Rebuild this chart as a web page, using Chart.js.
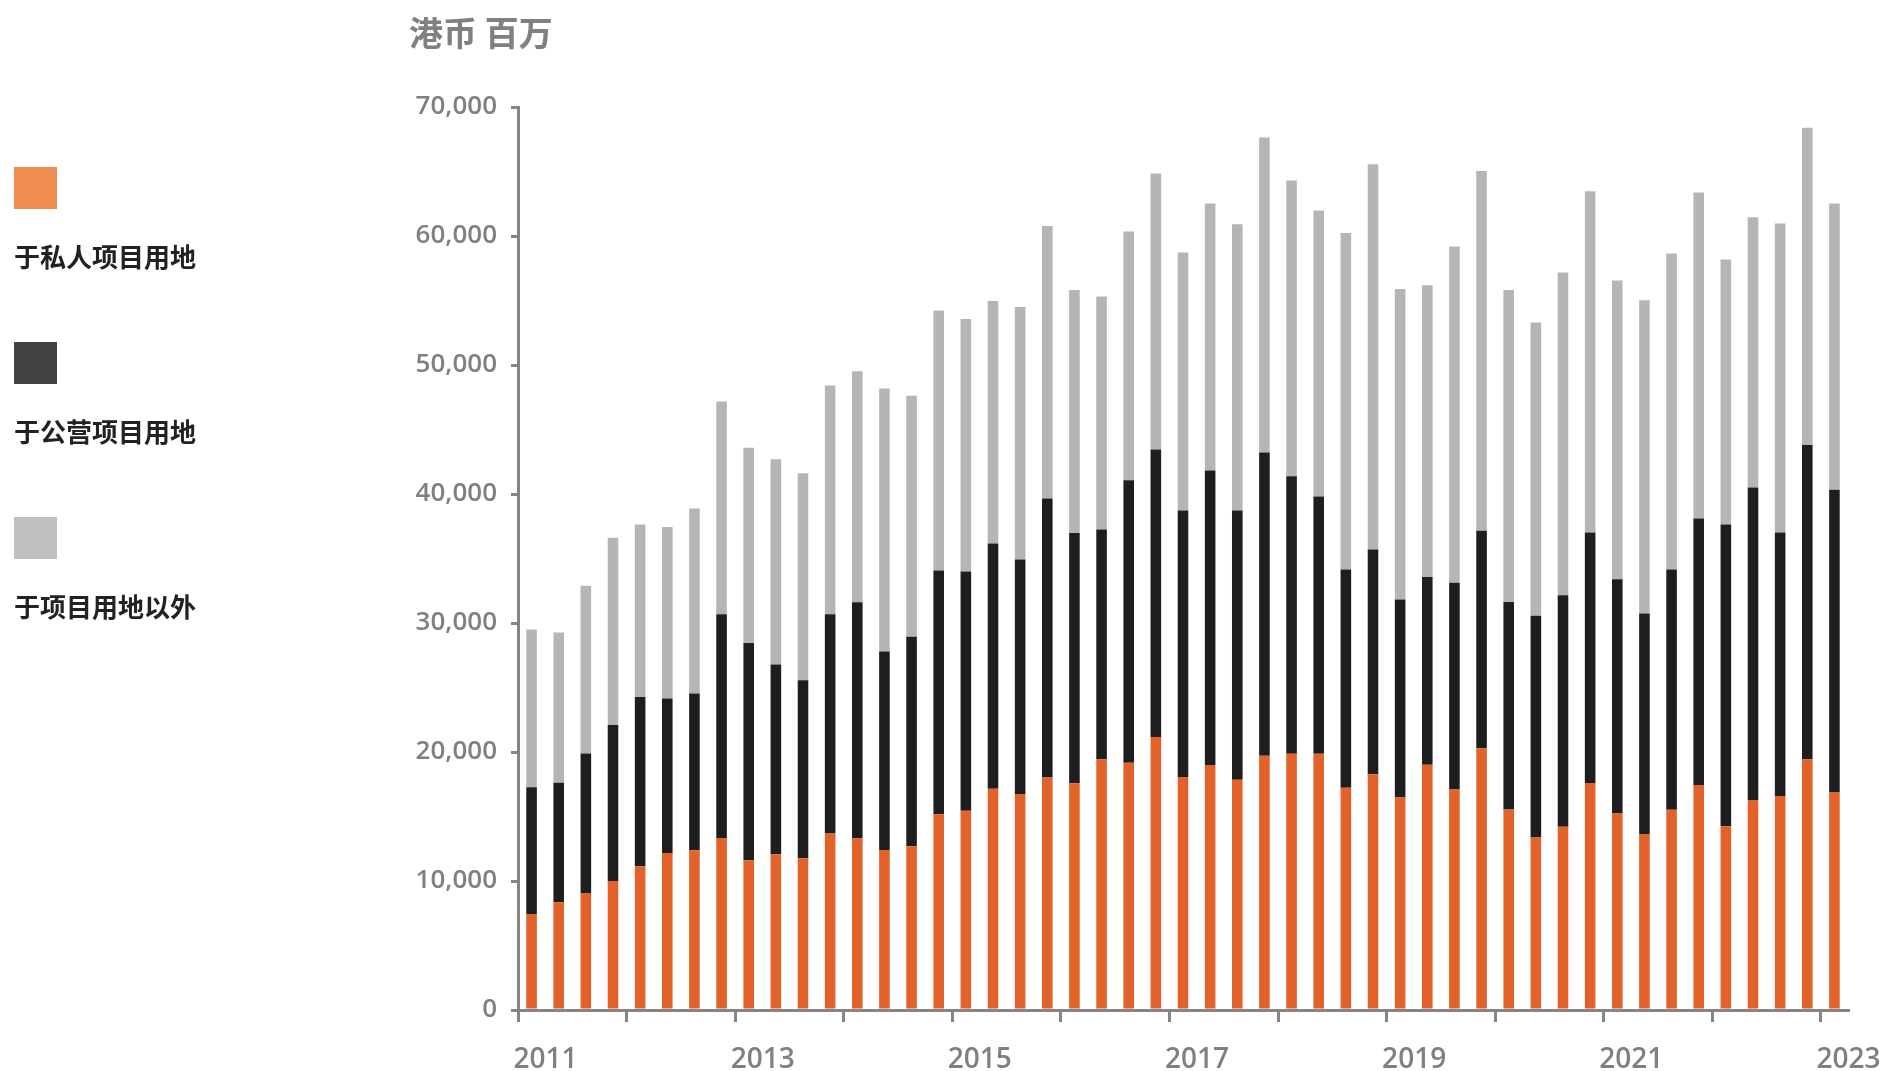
<!DOCTYPE html>
<html>
<head>
<meta charset="utf-8">
<script src="https://cdn.jsdelivr.net/npm/chart.js@4.4.0/dist/chart.umd.min.js"></script>
<style>
  html, body { margin: 0; padding: 0; background: #fff; }
  #wrap { position: relative; width: 1888px; height: 1071px; overflow: hidden; }
  #chart { position: absolute; left: 0; top: 0; }
  .title { position: absolute; left: 409px; top: 12px; font: bold 34px "Noto Sans CJK SC"; line-height: 40px; color: #808080; white-space: nowrap; }
  .legend-item { position: absolute; left: 14px; }
  .swatch { width: 43px; height: 42px; }
  .legend-label { margin-top: 32px; font: bold 26px "Noto Sans CJK SC"; line-height: 30px; color: #222; white-space: nowrap; }
</style>
</head>
<body>
<div id="wrap">
  <canvas id="chart" width="1888" height="1071"></canvas>
  <div class="title">港币 百万</div>
  <div id="legend"></div>
</div>
<script>
// quarterly, 2011 Q1 - 2023 Q1
const years = [2011, 2012, 2013, 2014, 2015, 2016, 2017, 2018, 2019, 2020, 2021, 2022, 2023];
const categories = [];
years.forEach(y => ['Q1', 'Q2', 'Q3', 'Q4'].forEach(q => categories.push(y + ' ' + q)));
categories.splice(49);

const yearLabels = ['2011', '2013', '2015', '2017', '2019', '2021', '2023'];

const seriesNames = ['于私人项目用地', '于公营项目用地', '于项目用地以外'];

const privateSites = [7440, 8350, 9070, 10000, 11140, 12170, 12380, 13330, 11600, 12070,
  11760, 13690, 13310, 12400, 12690, 15170, 15450, 17160, 16740, 18030,
  17570, 19430, 19170, 21160, 18060, 18990, 17850, 19710, 19860, 19860,
  17230, 18270, 16480, 19010, 17100, 20300, 15550, 13380, 14210, 17590,
  15240, 13640, 15520, 17440, 14240, 16250, 16580, 19430, 16870];

const publicSites = [9820, 9270, 10820, 12090, 13120, 11980, 12160, 17340, 16840, 14720,
  13810, 16980, 18290, 15400, 16240, 18900, 18550, 19010, 18190, 21620,
  19400, 17820, 21900, 22290, 20660, 22830, 20870, 23510, 21520, 19950,
  16920, 17430, 15350, 14550, 16020, 16850, 16070, 17180, 17950, 19430,
  18160, 17100, 18630, 20660, 23400, 24260, 20440, 24360, 23450];

const otherSites = [12240, 11650, 12990, 14510, 13380, 13300, 14340, 16500, 15140, 15910,
  16040, 17740, 17920, 20380, 18680, 20150, 19570, 18800, 19570, 21130,
  18850, 18060, 19270, 21390, 20000, 20690, 22190, 24410, 22920, 22160,
  26090, 29860, 24070, 22620, 26060, 27890, 24200, 22730, 25010, 26450,
  23150, 24280, 24490, 25270, 20530, 20940, 23940, 24610, 22190];

const yTicks = [0, 10000, 20000, 30000, 40000, 50000, 60000, 70000];

const barColors = ['#E36229', '#1E1E1E', '#B4B5B4'];
const legendColors = ['#EF8C4F', '#424242', '#C0C0C0'];
const axisGray = '#858585';
const textGray = '#808080';

const chart = new Chart(document.getElementById('chart'), {
    type: 'bar',
    data: {
        labels: categories,
        datasets: [privateSites, publicSites, otherSites].map((d, i) => ({
            label: seriesNames[i],
            data: d,
            backgroundColor: barColors[i],
            borderWidth: 0,
            barPercentage: 0.39,
            categoryPercentage: 1
        }))
    },
    options: {
        responsive: false,
        animation: false,
        layout: { padding: { top: 107, right: 40, left: 0, bottom: 0 } },
        plugins: {
            legend: { display: false },
            tooltip: { enabled: false }
        },
        scales: {
            x: {
                stacked: true,
                afterFit: s => { s.height = 61; },
                border: { color: axisGray, width: 3 },
                grid: {
                    offset: true,
                    drawOnChartArea: false,
                    tickLength: 12,
                    lineWidth: 3,
                    color: ctx => (ctx.index !== undefined && ctx.index % 4 === 0) ? axisGray : 'rgba(0,0,0,0)'
                },
                ticks: {
                    autoSkip: false,
                    maxRotation: 0,
                    padding: 21,
                    labelOffset: 14,
                    color: textGray,
                    font: { family: 'Open Sans', size: 28, weight: '600' },
                    callback: function (v, i) {
                        const parts = categories[i].split(' ');
                        return (parts[1] === 'Q1' && yearLabels.includes(parts[0])) ? parts[0] : '';
                    }
                }
            },
            y: {
                stacked: true,
                min: yTicks[0],
                max: yTicks[yTicks.length - 1],
                afterFit: s => { s.width = 518; },
                afterBuildTicks: s => { s.ticks = yTicks.map(v => ({ value: v })); },
                border: { color: axisGray, width: 3 },
                grid: {
                    drawOnChartArea: false,
                    tickLength: 7,
                    lineWidth: 3,
                    color: axisGray
                },
                ticks: {
                    padding: 14,
                    color: textGray,
                    font: { family: 'Open Sans', size: 26, weight: '600' },
                    callback: v => v.toLocaleString('en-US')
                }
            }
        }
    }
});

// legend on the left: swatch above label
const legend = document.getElementById('legend');
chart.data.datasets.forEach((ds, i) => {
    const item = document.createElement('div');
    item.className = 'legend-item';
    item.style.top = (167 + i * 175) + 'px';
    item.innerHTML = '<div class="swatch" style="background:' + legendColors[i] + '"></div>' +
        '<div class="legend-label">' + ds.label + '</div>';
    legend.appendChild(item);
});
</script>
</body>
</html>
